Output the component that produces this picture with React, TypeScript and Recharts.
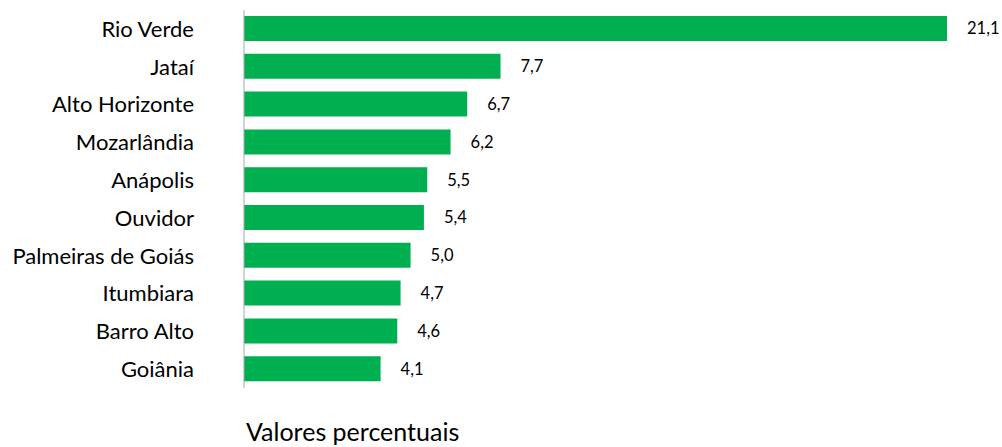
import React from 'react';
import { BarChart, Bar, XAxis, YAxis, LabelList } from 'recharts';

const categories = ['Rio Verde', 'Jataí', 'Alto Horizonte', 'Mozarlândia', 'Anápolis', 'Ouvidor', 'Palmeiras de Goiás', 'Itumbiara', 'Barro Alto', 'Goiânia'];
const values = [21.1, 7.7, 6.7, 6.2, 5.5, 5.4, 5.0, 4.7, 4.6, 4.1];
const axisTitle = 'Valores percentuais';

const data = categories.map((name, i) => ({ name, value: values[i] }));

const fmt = (v: any) => Number(v).toFixed(1).replace('.', ',');

export default function App() {
  return (
    <div style={{ position: 'absolute', left: 0, top: 0, width: 1002, height: 447, background: '#fff', fontFamily: 'Lato, sans-serif' }}>
      <BarChart
        width={1002}
        height={447}
        data={data}
        layout="vertical"
        margin={{ top: 10, right: 55, bottom: 59, left: 0 }}
        barCategoryGap={6}
      >
        <XAxis type="number" domain={[0, 21.1]} hide />
        <YAxis
          type="category"
          dataKey="name"
          width={244}
          tickLine={false}
          tickSize={0}
          tickMargin={50}
          axisLine={{ stroke: '#A6A6A6', strokeWidth: 1 }}
          tick={{ fill: '#000', fontSize: 22, fontFamily: 'Lato, sans-serif' }}
          interval={0}
        />
        <Bar dataKey="value" fill="#00B050" barSize={25} isAnimationActive={false}>
          <LabelList dataKey="value" position="right" offset={20} formatter={fmt} style={{ fill: '#000', fontSize: 16.5, fontFamily: 'Lato, sans-serif' }} />
        </Bar>
      </BarChart>
      <div style={{ position: 'absolute', left: 246, top: 419, fontSize: 25, color: '#000', whiteSpace: 'nowrap', lineHeight: '25px' }}>{axisTitle}</div>
    </div>
  );
}
